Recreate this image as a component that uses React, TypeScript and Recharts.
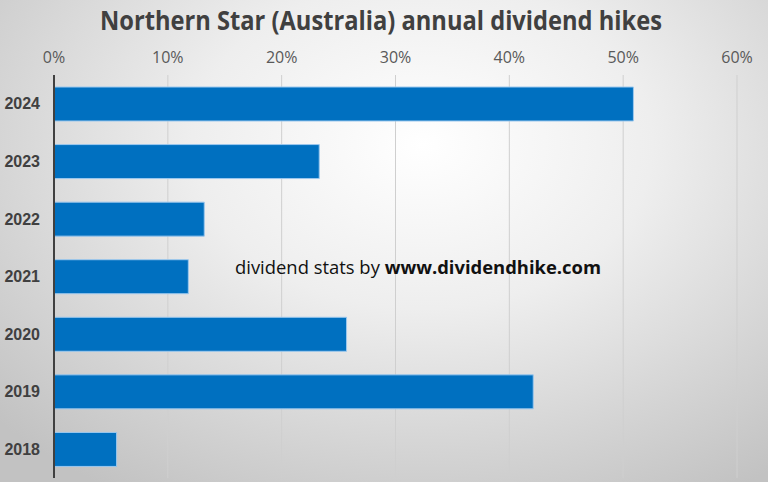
import React from 'react';
import { BarChart, Bar, XAxis, YAxis, CartesianGrid } from 'recharts';

const years = ['2024', '2023', '2022', '2021', '2020', '2019', '2018'];
const hikes = [50.9, 23.3, 13.2, 11.8, 25.7, 42.1, 5.5];
const xTicks = [0, 10, 20, 30, 40, 50, 60];

const chartData = years.map((year, i) => ({ year, hike: hikes[i] }));

const App: React.FC = () => {
  return (
    <div
      style={{
        position: 'absolute',
        left: 0,
        top: 0,
        width: 768,
        height: 482,
        overflow: 'hidden',
        background:
          'radial-gradient(ellipse 75% 85% at 55% 30%, #ffffff 0%, #eeeeee 40%, #d4d4d4 75%, #c2c2c2 100%)',
      }}
    >
      <BarChart
        width={768}
        height={482}
        data={chartData}
        layout="vertical"
        margin={{ top: 45, right: 31, bottom: 4, left: 0 }}
        barSize={34}
      >
        <CartesianGrid horizontal={false} stroke="#cfcfcf" strokeWidth={1} />
        <XAxis
          type="number"
          orientation="top"
          domain={[0, 60]}
          ticks={xTicks}
          tickFormatter={(v: number) => `${v}%`}
          axisLine={false}
          tickLine={false}
          tickSize={0}
          tickMargin={12}
          height={30}
          tick={{ fill: '#595959', fontSize: 16, fontFamily: 'Open Sans, sans-serif' }}
        />
        <YAxis
          type="category"
          dataKey="year"
          width={54}
          axisLine={{ stroke: '#404040', strokeWidth: 2 }}
          tickLine={false}
          tickSize={0}
          tickMargin={14}
          tick={{ fill: '#404040', fontSize: 16, fontWeight: 'bold', fontFamily: 'Liberation Sans, Arial, sans-serif' }}
        />
        <Bar dataKey="hike" fill="#0070C0" stroke="#9cc8ee" strokeWidth={1} isAnimationActive={false} />
      </BarChart>
      <svg
        width={768}
        height={482}
        style={{ position: 'absolute', left: 0, top: 0, pointerEvents: 'none' }}
      >
        <text
          x={381}
          y={30}
          textAnchor="middle"
          fontFamily="Open Sans, sans-serif"
          fontWeight="bold"
          fontSize={27}
          fill="#404040"
          textLength={562}
          lengthAdjust="spacingAndGlyphs"
        >
          Northern Star (Australia) annual dividend hikes
        </text>
        <text
          x={235}
          y={274}
          fontFamily="Open Sans, sans-serif"
          fontSize={18}
          fill="#111111"
          textLength={366}
          lengthAdjust="spacingAndGlyphs"
        >
          dividend stats by <tspan fontWeight="bold">www.dividendhike.com</tspan>
        </text>
      </svg>
    </div>
  );
};

export default App;
